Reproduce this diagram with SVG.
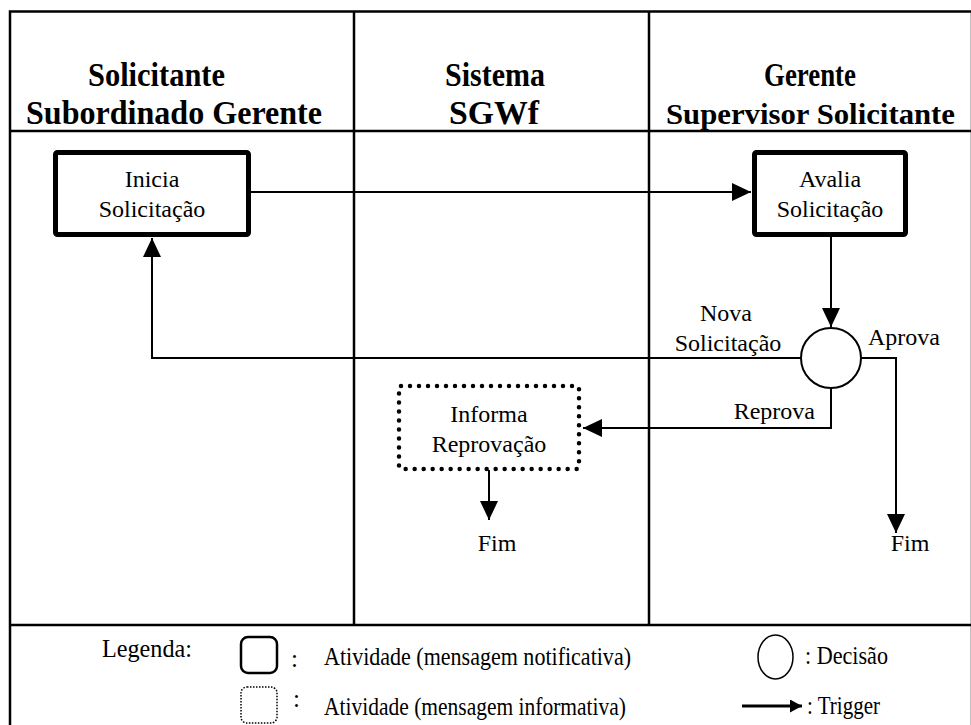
<svg xmlns="http://www.w3.org/2000/svg" width="971" height="725" viewBox="0 0 971 725">
  <style>
    .frame { fill: none; stroke: #000; stroke-width: 2.5; }
    .grid { stroke: #000; stroke-width: 2.5; }
    .act { fill: #fff; stroke: #000; stroke-width: 5; }
    .info { fill: #fff; stroke: #000; stroke-width: 4.5; stroke-dasharray: 0 9; stroke-linecap: round; }
    .dec { fill: #fff; stroke: #000; stroke-width: 2; }
    .wire { fill: none; stroke: #000; stroke-width: 2; }
    .hdr { font-family: "Liberation Serif", "Times New Roman", serif; font-weight: bold; font-size: 33px; fill: #000; }
    .lbl { font-family: "Liberation Serif", "Times New Roman", serif; font-size: 24px; fill: #000; }
    .leg { font-family: "Liberation Serif", "Times New Roman", serif; font-size: 25px; fill: #000; }
  </style>
  <defs>
    <marker id="tri" markerUnits="userSpaceOnUse" markerWidth="20" markerHeight="20" refX="19" refY="9" orient="auto">
      <path d="M0,0 L19,9 L0,18 z" fill="#000"/>
    </marker>
    <marker id="triSmall" markerUnits="userSpaceOnUse" markerWidth="14" markerHeight="14" refX="12" refY="6.5" orient="auto">
      <path d="M0,0 L12,6.5 L0,13 z" fill="#000"/>
    </marker>
  </defs>

  <rect width="971" height="725" fill="#fff"/>

  <!-- swimlane frame -->
  <g id="lanes">
    <rect class="frame" x="10" y="11.5" width="962" height="720"/>
    <line class="grid" x1="10" y1="131" x2="972" y2="131"/>
    <line class="grid" x1="10" y1="625" x2="972" y2="625"/>
    <line class="grid" x1="354" y1="11.5" x2="354" y2="625"/>
    <line class="grid" x1="649" y1="11.5" x2="649" y2="625"/>
    <text class="hdr" x="88" y="86" textLength="137" lengthAdjust="spacingAndGlyphs">Solicitante</text>
    <text class="hdr" x="26" y="124" textLength="296" lengthAdjust="spacingAndGlyphs">Subordinado Gerente</text>
    <text class="hdr" x="445" y="86" textLength="100" lengthAdjust="spacingAndGlyphs">Sistema</text>
    <text class="hdr" x="449" y="124" textLength="90" lengthAdjust="spacingAndGlyphs">SGWf</text>
    <text class="hdr" x="764" y="86" textLength="92" lengthAdjust="spacingAndGlyphs">Gerente</text>
    <text class="hdr" x="666" y="124" style="font-size:30px" textLength="289" lengthAdjust="spacingAndGlyphs">Supervisor Solicitante</text>
  </g>

  <!-- connectors -->
  <g id="connectors">
    <line class="wire" x1="251" y1="192" x2="751" y2="192" marker-end="url(#tri)"/>
    <line class="wire" x1="831" y1="237" x2="831" y2="327" marker-end="url(#tri)"/>
    <polyline class="wire" points="801,358 152,358 152,238" marker-end="url(#tri)"/>
    <polyline class="wire" points="831,388 831,428 583,428" marker-end="url(#tri)"/>
    <polyline class="wire" points="861,358 896,358 896,533" marker-end="url(#tri)"/>
    <line class="wire" x1="489" y1="470" x2="489" y2="520" marker-end="url(#tri)"/>
    <text class="lbl" x="726" y="321" text-anchor="middle">Nova</text>
    <text class="lbl" x="728" y="351" text-anchor="middle">Solicitação</text>
    <text class="lbl" x="868" y="345">Aprova</text>
    <text class="lbl" x="815" y="419" text-anchor="end">Reprova</text>
  </g>

  <g id="inicia">
    <rect class="act" x="55.5" y="152.5" width="193" height="82" rx="2"/>
    <text class="lbl" x="152" y="187" text-anchor="middle">Inicia</text>
    <text class="lbl" x="152" y="217" text-anchor="middle">Solicitação</text>
  </g>

  <g id="avalia">
    <rect class="act" x="754.5" y="152.5" width="151" height="82" rx="2"/>
    <text class="lbl" x="830" y="187" text-anchor="middle">Avalia</text>
    <text class="lbl" x="830" y="217" text-anchor="middle">Solicitação</text>
  </g>

  <g id="decisao">
    <circle class="dec" cx="831" cy="358" r="30"/>
  </g>

  <g id="informa">
    <rect class="info" x="399" y="386" width="180" height="83" rx="2"/>
    <text class="lbl" x="489" y="422" text-anchor="middle">Informa</text>
    <text class="lbl" x="489" y="452" text-anchor="middle">Reprovação</text>
  </g>

  <g id="fim-informa">
    <text class="lbl" x="497" y="551" text-anchor="middle">Fim</text>
  </g>

  <g id="fim-aprova">
    <text class="lbl" x="910" y="551" text-anchor="middle">Fim</text>
  </g>

  <!-- legend -->
  <g id="legenda">
    <text class="leg" x="102" y="657" textLength="90" lengthAdjust="spacingAndGlyphs">Legenda:</text>
    <rect x="241" y="637" width="36" height="36" rx="7" fill="none" stroke="#000" stroke-width="2.5"/>
    <text class="leg" x="291" y="667">:</text>
    <text class="leg" x="324" y="665" textLength="307" lengthAdjust="spacingAndGlyphs">Atividade (mensagem notificativa)</text>
    <ellipse cx="775.5" cy="657" rx="17.5" ry="22" fill="none" stroke="#000" stroke-width="1.5"/>
    <text class="leg" x="805" y="664" textLength="83" lengthAdjust="spacingAndGlyphs">: Decisão</text>
    <rect x="241" y="687" width="36" height="36" rx="6" fill="none" stroke="#000" stroke-width="1.5" stroke-dasharray="1.5 1.5"/>
    <text class="leg" x="293" y="707">:</text>
    <text class="leg" x="324" y="715" textLength="302" lengthAdjust="spacingAndGlyphs">Atividade (mensagem informativa)</text>
    <line x1="742" y1="706" x2="802" y2="706" stroke="#000" stroke-width="3" marker-end="url(#triSmall)"/>
    <text class="leg" x="807" y="714" textLength="73" lengthAdjust="spacingAndGlyphs">: Trigger</text>
  </g>
</svg>
